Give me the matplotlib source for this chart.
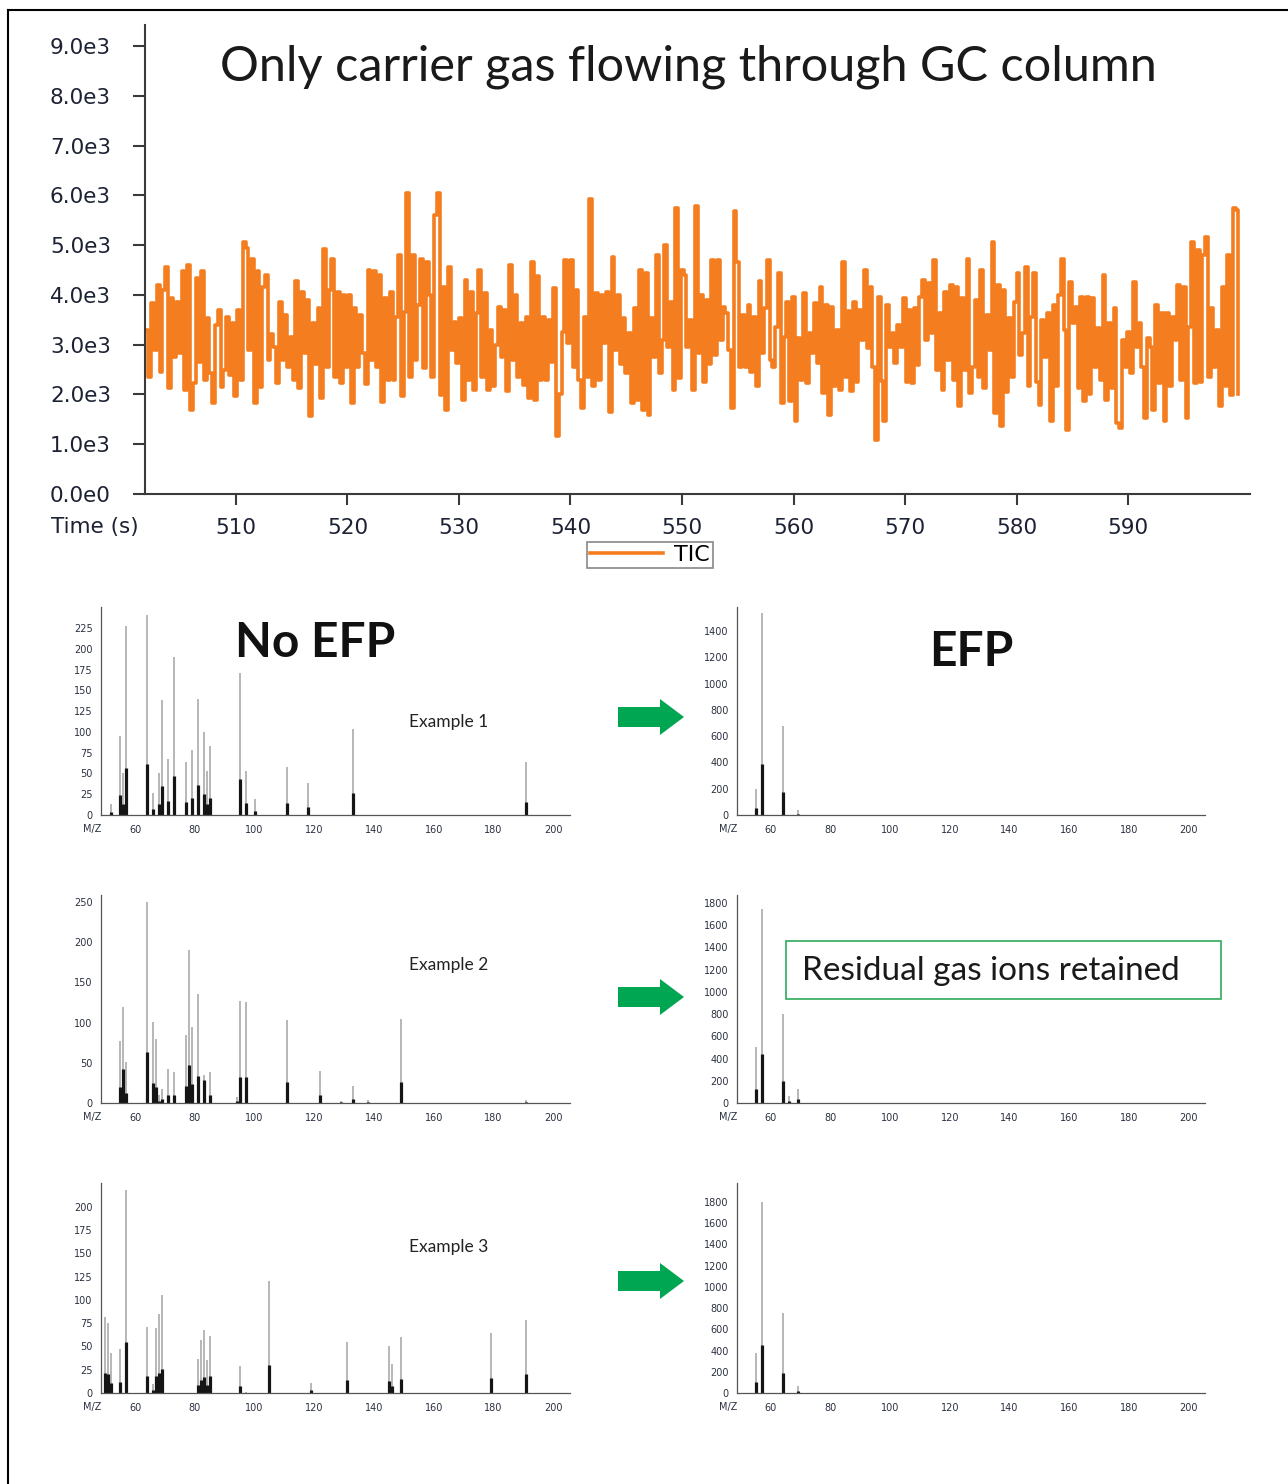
import numpy as np
import matplotlib.pyplot as plt
from matplotlib.patches import FancyArrow, Rectangle

# TIC trace (carrier gas only) in four ~25 s stretches
tic_a = [3300, 2360, 3830, 2900, 4200, 2460, 4100, 4560, 2120, 3930,
         2760, 3850, 2830, 4470, 2090, 4600, 1690, 2220, 4330, 2650,
         4470, 2290, 3530, 2430, 1820, 3400, 3700, 2150, 2500, 3560,
         2400, 3430, 1960, 3700, 2300, 5070, 4950, 2900, 4730, 1820,
         4470, 2150, 4160, 4400, 2700, 3220, 2950, 2230, 3860, 2700,
         3600, 2560, 3150, 2300, 4270, 2130, 4060, 2830, 3900, 1560,
         3430, 2620, 3730, 1920, 4930, 2560, 4100, 4730, 2350, 4060,
         2220, 4000, 2560, 4000, 1820, 3730, 2560, 3600, 2830, 2200,
         4500, 2700, 4470, 2560, 4400, 1850, 3930, 2300, 4060, 2300,
         3560, 4800, 1960, 3650, 6040, 2350, 4800, 2700, 3800, 4730]
tic_b = [2525, 4670, 4000, 2360, 5600, 6050, 1990, 4165, 1690, 4565,
         2900, 3460, 2630, 3530, 1890, 4300, 2300, 4060, 2090, 3630,
         4500, 2360, 4030, 2090, 3300, 2160, 3000, 3760, 2760, 3700,
         2060, 4600, 2690, 4000, 2360, 3430, 2190, 3560, 1920, 4660,
         1890, 4370, 2290, 3560, 2290, 3500, 2660, 4130, 1160, 2000,
         3260, 4700, 3030, 4700, 2560, 4100, 2290, 1720, 3560, 2360,
         5920, 2160, 4030, 2300, 4000, 3030, 4060, 1650, 4770, 2900,
         4000, 2620, 3530, 2430, 3230, 1820, 3730, 1890, 4500, 1680,
         4430, 1590, 3530, 2760, 4800, 2430, 3100, 5000, 2960, 3860,
         2090, 5740, 2330, 4500, 4400, 2960, 3500, 2090, 5780]
tic_c = [2830, 4000, 2260, 3900, 2620, 4700, 2790, 4700, 3100, 3760,
         3630, 2900, 1720, 5690, 4660, 2560, 3600, 2560, 3800, 2460,
         3560, 2160, 4270, 2830, 3730, 4700, 2690, 2560, 3360, 4430,
         1820, 3160, 3860, 1860, 3960, 1460, 3130, 2290, 4030, 2220,
         3230, 2830, 3830, 2630, 4160, 2020, 3800, 1590, 3760, 2160,
         3300, 2090, 4660, 2360, 3670, 2060, 3860, 2260, 3700, 3100,
         4500, 2930, 4160, 2560, 1090, 3960, 2280, 1460, 3790, 2960,
         3230, 2630, 3400, 2960, 3930, 2260, 3700, 2230, 3730, 2590,
         3960, 4300, 3100, 4230, 3230, 4700, 2490, 3630, 2090, 4060,
         2690, 4200, 2290, 4160, 1760, 3930, 2490, 4730, 2020]
tic_d = [2560, 3900, 2360, 4500, 2130, 3600, 2900, 5070, 1620, 4200,
         1360, 4100, 2050, 3530, 2360, 3860, 4430, 2790, 3230, 4570,
         2160, 3560, 4430, 2260, 1790, 3500, 2760, 3630, 1460, 3800,
         2160, 3990, 4730, 3300, 1290, 4260, 3430, 3760, 2130, 3960,
         1860, 3960, 2000, 3930, 2560, 3330, 2290, 4400, 1890, 3430,
         2130, 3730, 1420, 1320, 3100, 2560, 3260, 2430, 4260, 2960,
         3430, 2560, 1520, 3130, 2960, 1690, 3800, 2230, 3630, 1460,
         3630, 2160, 3560, 3100, 4200, 2290, 4160, 1520, 3360, 5070,
         2220, 4900, 2260, 4800, 5170, 2360, 3730, 2560, 3300, 1760,
         4160, 2160, 4800, 1990, 5740, 5700, 2000]
scan_start, scan_end = 501.9, 599.9
tic_ticks = [0, 1000, 2000, 3000, 4000, 5000, 6000, 7000, 8000, 9000]
tic_tick_labels = ['0.0e0', '1.0e3', '2.0e3', '3.0e3', '4.0e3',
                   '5.0e3', '6.0e3', '7.0e3', '8.0e3', '9.0e3']
time_ticks = [510, 520, 530, 540, 550, 560, 570, 580, 590]

# mass spectra: m/z, full intensity (grey) and dark bar
ex1_mz = [52, 55, 56, 57, 64, 66, 68, 69, 71, 73, 77, 79, 81, 83, 84, 85,
          95, 97, 100, 111, 118, 133, 191]
ex1_all = [13, 95, 50, 227, 241, 26, 51, 138, 67, 190, 64, 78, 139, 100, 53,
           83, 171, 53, 19, 58, 38, 104, 64]
ex1_dark = [4, 24, 13, 57, 61, 7, 13, 35, 17, 47, 16, 20, 36, 25, 13, 21, 43,
            14, 5, 15, 10, 26, 16]
efp1_mz = [55, 57, 64, 69]
efp1_all = [195, 1540, 680, 35]
efp1_dark = [50, 385, 175, 10]

ex2_mz = [55, 56, 57, 64, 66, 67, 68, 69, 71, 73, 77, 78, 79, 81, 83, 85, 94,
          95, 97, 111, 122, 129, 133, 138, 149, 191]
ex2_all = [77, 119, 51, 250, 101, 79, 10, 18, 42, 39, 84, 190, 95, 136, 35,
           38, 8, 127, 126, 103, 40, 2, 21, 4, 105, 4]
ex2_dark = [20, 42, 13, 63, 25, 20, 3, 5, 10, 10, 21, 47, 24, 34, 29, 10, 2,
            32, 32, 26, 10, 1, 5, 1, 26, 1]
efp2_mz = [55, 57, 64, 66, 69]
efp2_all = [500, 1750, 800, 60, 130]
efp2_dark = [130, 440, 200, 15, 35]

ex3_mz = [50, 51, 52, 55, 57, 64, 66, 67, 68, 69, 81, 82, 83, 84, 85, 95, 97,
          105, 119, 131, 145, 146, 149, 179, 191]
ex3_all = [82, 75, 43, 47, 218, 71, 10, 70, 85, 105, 37, 57, 68, 36, 61, 29, 1,
           120, 11, 55, 50, 31, 60, 64, 78]
ex3_dark = [21, 20, 11, 12, 55, 18, 3, 18, 21, 26, 9, 14, 17, 9, 18, 7, 0.5,
            30, 3, 14, 13, 8, 15, 16, 20]
efp3_mz = [55, 57, 64, 69]
efp3_all = [375, 1800, 755, 65]
efp3_dark = [100, 450, 190, 16]

W, H = 1288, 1484
fig = plt.figure(figsize=(W / 100, H / 100), dpi=100)
plt.rcParams['font.family'] = 'DejaVu Sans'


def px_box(x0, y0, x1, y1):
    return [x0 / W, 1 - y1 / H, (x1 - x0) / W, (y1 - y0) / H]


# --- TIC chromatogram
tic = tic_a + tic_b + tic_c + tic_d
t = np.linspace(scan_start, scan_end, len(tic))
ax = fig.add_axes(px_box(145, 25, 1250, 494))
ax.plot(t, tic, color='#f47d20', lw=2.6, drawstyle='steps-post', label='TIC')
ax.set_xlim(501.84, 600.94)
ax.set_ylim(0, 9422)
ax.set_yticks(tic_ticks)
ax.set_yticklabels(tic_tick_labels)
ax.set_xticks(time_ticks)
for s in ['top', 'right']:
    ax.spines[s].set_visible(False)
for s in ['left', 'bottom']:
    ax.spines[s].set_linewidth(1.5)
    ax.spines[s].set_color('#3a3a3a')
ax.tick_params(axis='y', length=8.5, width=1.5, pad=16, labelsize=15.5,
               color='#3a3a3a', labelcolor='#1c2233')
ax.tick_params(axis='x', length=8, width=1.5, pad=9, labelsize=15.5,
               color='#3a3a3a', labelcolor='#1c2233')
leg = ax.legend(loc='center', bbox_to_anchor=(0.457, -0.13), fancybox=False,
                edgecolor='#888888', framealpha=1, fontsize=16,
                handlelength=3.3, borderpad=0.15, handletextpad=0.5,
                borderaxespad=0)
leg.get_frame().set_linewidth(1.2)

# --- mass spectra
panels = [
    (ex1_mz, ex1_all, ex1_dark, (101, 607, 570, 815), 250.3, range(0, 226, 25)),
    (efp1_mz, efp1_all, efp1_dark, (737, 607, 1205, 815), 1583, range(0, 1401, 200)),
    (ex2_mz, ex2_all, ex2_dark, (101, 895, 570, 1103), 258.7, range(0, 251, 50)),
    (efp2_mz, efp2_all, efp2_dark, (737, 895, 1205, 1103), 1872, range(0, 1801, 200)),
    (ex3_mz, ex3_all, ex3_dark, (101, 1183, 570, 1393), 225.8, range(0, 201, 25)),
    (efp3_mz, efp3_all, efp3_dark, (737, 1183, 1205, 1393), 1979, range(0, 1801, 200)),
]
for mz, full, dark, box, ytop, yt in panels:
    sax = fig.add_axes(px_box(*box))
    sax.vlines(mz, 0, full, color='#a3a3a3', lw=1.1)
    sax.vlines(mz, 0, dark, color='#151515', lw=2.3)
    sax.set_xlim(48.6, 205.6)
    sax.set_ylim(0, ytop)
    sax.set_xticks(range(60, 201, 20))
    sax.set_yticks(list(yt))
    for s in ['top', 'right']:
        sax.spines[s].set_visible(False)
    for s in ['left', 'bottom']:
        sax.spines[s].set_linewidth(0.9)
        sax.spines[s].set_color('#555555')
    sax.tick_params(length=0, labelsize=7, labelcolor='#2a3040')
    sax.tick_params(axis='x', pad=7)
    sax.tick_params(axis='y', pad=6)

# --- overlay in pixel coordinates for annotations
ov = fig.add_axes([0, 0, 1, 1], zorder=10)
ov.set_xlim(0, W)
ov.set_ylim(H, 0)
ov.axis('off')
ov.patch.set_alpha(0)

ov.plot([8, 8], [10, H], color='black', lw=1.5)
ov.plot([8, W], [10, 10], color='black', lw=1.5)

ov.text(688, 67, 'Only carrier gas flowing through GC column', family='Lato',
        fontsize=35, color='#1a1a1a', ha='center', va='center')
ov.text(95, 527, 'Time (s)', fontsize=15.5, color='#1c2233',
        ha='center', va='center')
ov.text(315, 643, 'No EFP', family='Lato', weight='bold', fontsize=34.5,
        color='#111111', ha='center', va='center')
ov.text(971, 652, 'EFP', family='Lato', weight='bold', fontsize=34.5,
        color='#111111', ha='center', va='center')
for label, yc in [('Example 1', 722), ('Example 2', 965), ('Example 3', 1247)]:
    ov.text(449, yc, label, family='Lato', fontsize=12.5, color='#222222',
            ha='center', va='center')

ov.add_patch(Rectangle((786, 941), 435, 58, fill=False,
                       edgecolor='#2eaa5a', lw=1.2))
ov.text(802, 971, 'Residual gas ions retained', family='Lato', fontsize=24,
        color='#1a1a1a', ha='left', va='center')

for yc in [717, 997, 1281]:
    ov.add_patch(FancyArrow(618, yc, 66, 0, width=20, head_width=36,
                            head_length=24, length_includes_head=True,
                            color='#00a651', lw=0))

for yb in [829, 1117, 1407]:
    for xm in [92, 728]:
        ov.text(xm, yb, 'M/Z', fontsize=7, color='#2a3040',
                ha='center', va='center')

fig.savefig('out.png', dpi=100)
